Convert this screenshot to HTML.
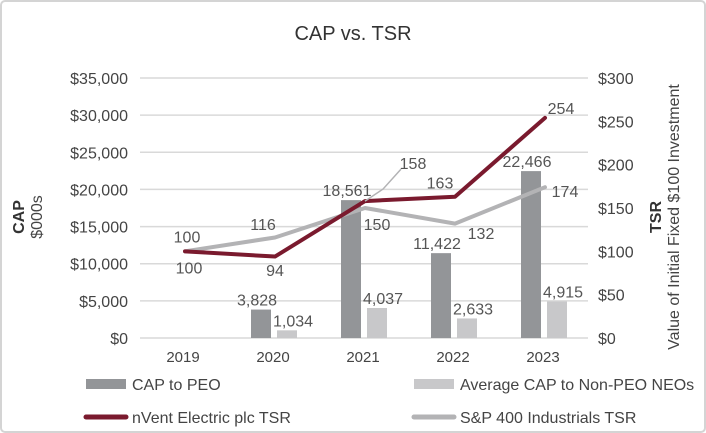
<!DOCTYPE html>
<html><head><meta charset="utf-8"><style>
body{margin:0;background:#fff}
svg{display:block;font-family:"Liberation Sans",sans-serif}
</style></head><body>
<svg id="c" width="706" height="433" viewBox="0 0 706 433">
<rect x="1" y="1" width="704" height="431" rx="4" fill="#fff" stroke="#d4d4d4" stroke-width="2"/>
<text x="353" y="40" text-anchor="middle" font-size="20" fill="#333">CAP vs. TSR</text>
<g id="grid"></g><g id="bars"></g><g id="lines"></g><g id="labels"></g>
<text transform="translate(24,217) rotate(-90)" text-anchor="middle" font-size="16" font-weight="bold" fill="#333">CAP</text>
<text transform="translate(42,217) rotate(-90)" text-anchor="middle" font-size="16" fill="#444">$000s</text>
<text transform="translate(661,217) rotate(-90)" text-anchor="middle" font-size="16" font-weight="bold" fill="#333">TSR</text>
<text transform="translate(679,217) rotate(-90)" text-anchor="middle" font-size="16" fill="#444">Value of Initial Fixed $100 Investment</text>
<g font-size="16" fill="#444">
<rect x="86" y="379" width="40" height="10" fill="#939598"/>
<text x="132" y="390">CAP to PEO</text>
<rect x="414" y="379" width="40" height="10" fill="#c8c8ca"/>
<text x="460" y="390">Average CAP to Non-PEO NEOs</text>
<line x1="86" y1="417" x2="126" y2="417" stroke="#7a1a2e" stroke-width="5" stroke-linecap="round"/>
<text x="132" y="423">nVent Electric plc TSR</text>
<line x1="414" y1="417" x2="454" y2="417" stroke="#b3b3b5" stroke-width="5" stroke-linecap="round"/>
<text x="460" y="423">S&amp;P 400 Industrials TSR</text>
</g>
</svg>
<script>
const years=["2019","2020","2021","2022","2023"];
const capPeo=[null,3828,18561,11422,22466];
const capNonPeo=[null,1034,4037,2633,4915];
const nventTsr=[100,94,158,163,254];
const spTsr=[100,116,150,132,174];
const leftTicks=[0,5000,10000,15000,20000,25000,30000,35000];
const rightTicks=[0,50,100,150,200,250,300];
const NS="http://www.w3.org/2000/svg";
const yL=v=>338-v/35000*260, yR=v=>338-v/300*260, xC=i=>183+i*90;
function mk(p,tag,a,t){const e=document.createElementNS(NS,tag);for(const k in a)e.setAttribute(k,a[k]);if(t!==undefined)e.textContent=t;document.getElementById(p).appendChild(e);return e;}
const fmt=v=>v.toLocaleString("en-US");
leftTicks.forEach(v=>{
 const l=mk("grid","line",{x1:140,x2:588,y1:yL(v),y2:yL(v),stroke:"#d9d9d9","stroke-width":1.5});
 
 
 const t=mk("grid","text",{x:128,y:yL(v)+6,"text-anchor":"end","font-size":16,fill:"#444"},"$"+fmt(v));
 
 
});
rightTicks.forEach(v=>{
 const t=mk("grid","text",{x:598,y:yR(v)+6,"font-size":16,fill:"#444"},"$"+v);
 
 
});
years.forEach((y,i)=>{
 const t=mk("grid","text",{x:xC(i),y:362,"text-anchor":"middle","font-size":15,fill:"#444"},y);
 
 
});
const barOff=[[-22,"#939598",capPeo],[4,"#c8c8ca",capNonPeo]];
barOff.forEach(([off,col,arr],si)=>{
 arr.forEach((v,i)=>{ if(v==null)return;
  const r=mk("bars","rect",{x:xC(i)+off,y:yL(v),width:20,height:338-yL(v),fill:col});
  
  
  const t=mk("labels","text",{x:xC(i)+off+10+(si?6:-4),y:yL(v)-4,"text-anchor":"middle","font-size":16,fill:"#555"},fmt(v));
  
  
 });
});
const sp=mk("lines","polyline",{points:spTsr.map((v,i)=>(xC(i)+2)+","+yR(v)).join(" "),fill:"none",stroke:"#b3b3b5","stroke-width":4,"stroke-linejoin":"round","stroke-linecap":"round"});


const nv=mk("lines","polyline",{points:nventTsr.map((v,i)=>(xC(i)+2)+","+yR(v)).join(" "),fill:"none",stroke:"#7a1a2e","stroke-width":4,"stroke-linejoin":"round","stroke-linecap":"round"});


const ld=mk("lines","polyline",{points:(xC(2)+2)+","+yR(nventTsr[2])+" "+(xC(2)+20)+","+(yR(nventTsr[2])-12)+" "+(xC(2)+38)+","+(yR(nventTsr[2])-32),fill:"none",stroke:"#b3b3b5","stroke-width":1.5});


// label offsets [dx, dy to baseline]
const nvOff=[[6,22],[2,19.5],[50,-32],[-13,-8],[18,-4]];
const spOff=[[4,-9],[-10,-7.5],[14,22],[28,15.5],[22,10]];
nventTsr.forEach((v,i)=>{
 const t=mk("labels","text",{x:xC(i)+nvOff[i][0],y:yR(v)+nvOff[i][1],"text-anchor":"middle","font-size":16,fill:"#555"},v);
 
 
});
spTsr.forEach((v,i)=>{
 const t=mk("labels","text",{x:xC(i)+spOff[i][0],y:yR(v)+spOff[i][1],"text-anchor":"middle","font-size":16,fill:"#555"},v);
 
 
});
</script>
</body></html>
